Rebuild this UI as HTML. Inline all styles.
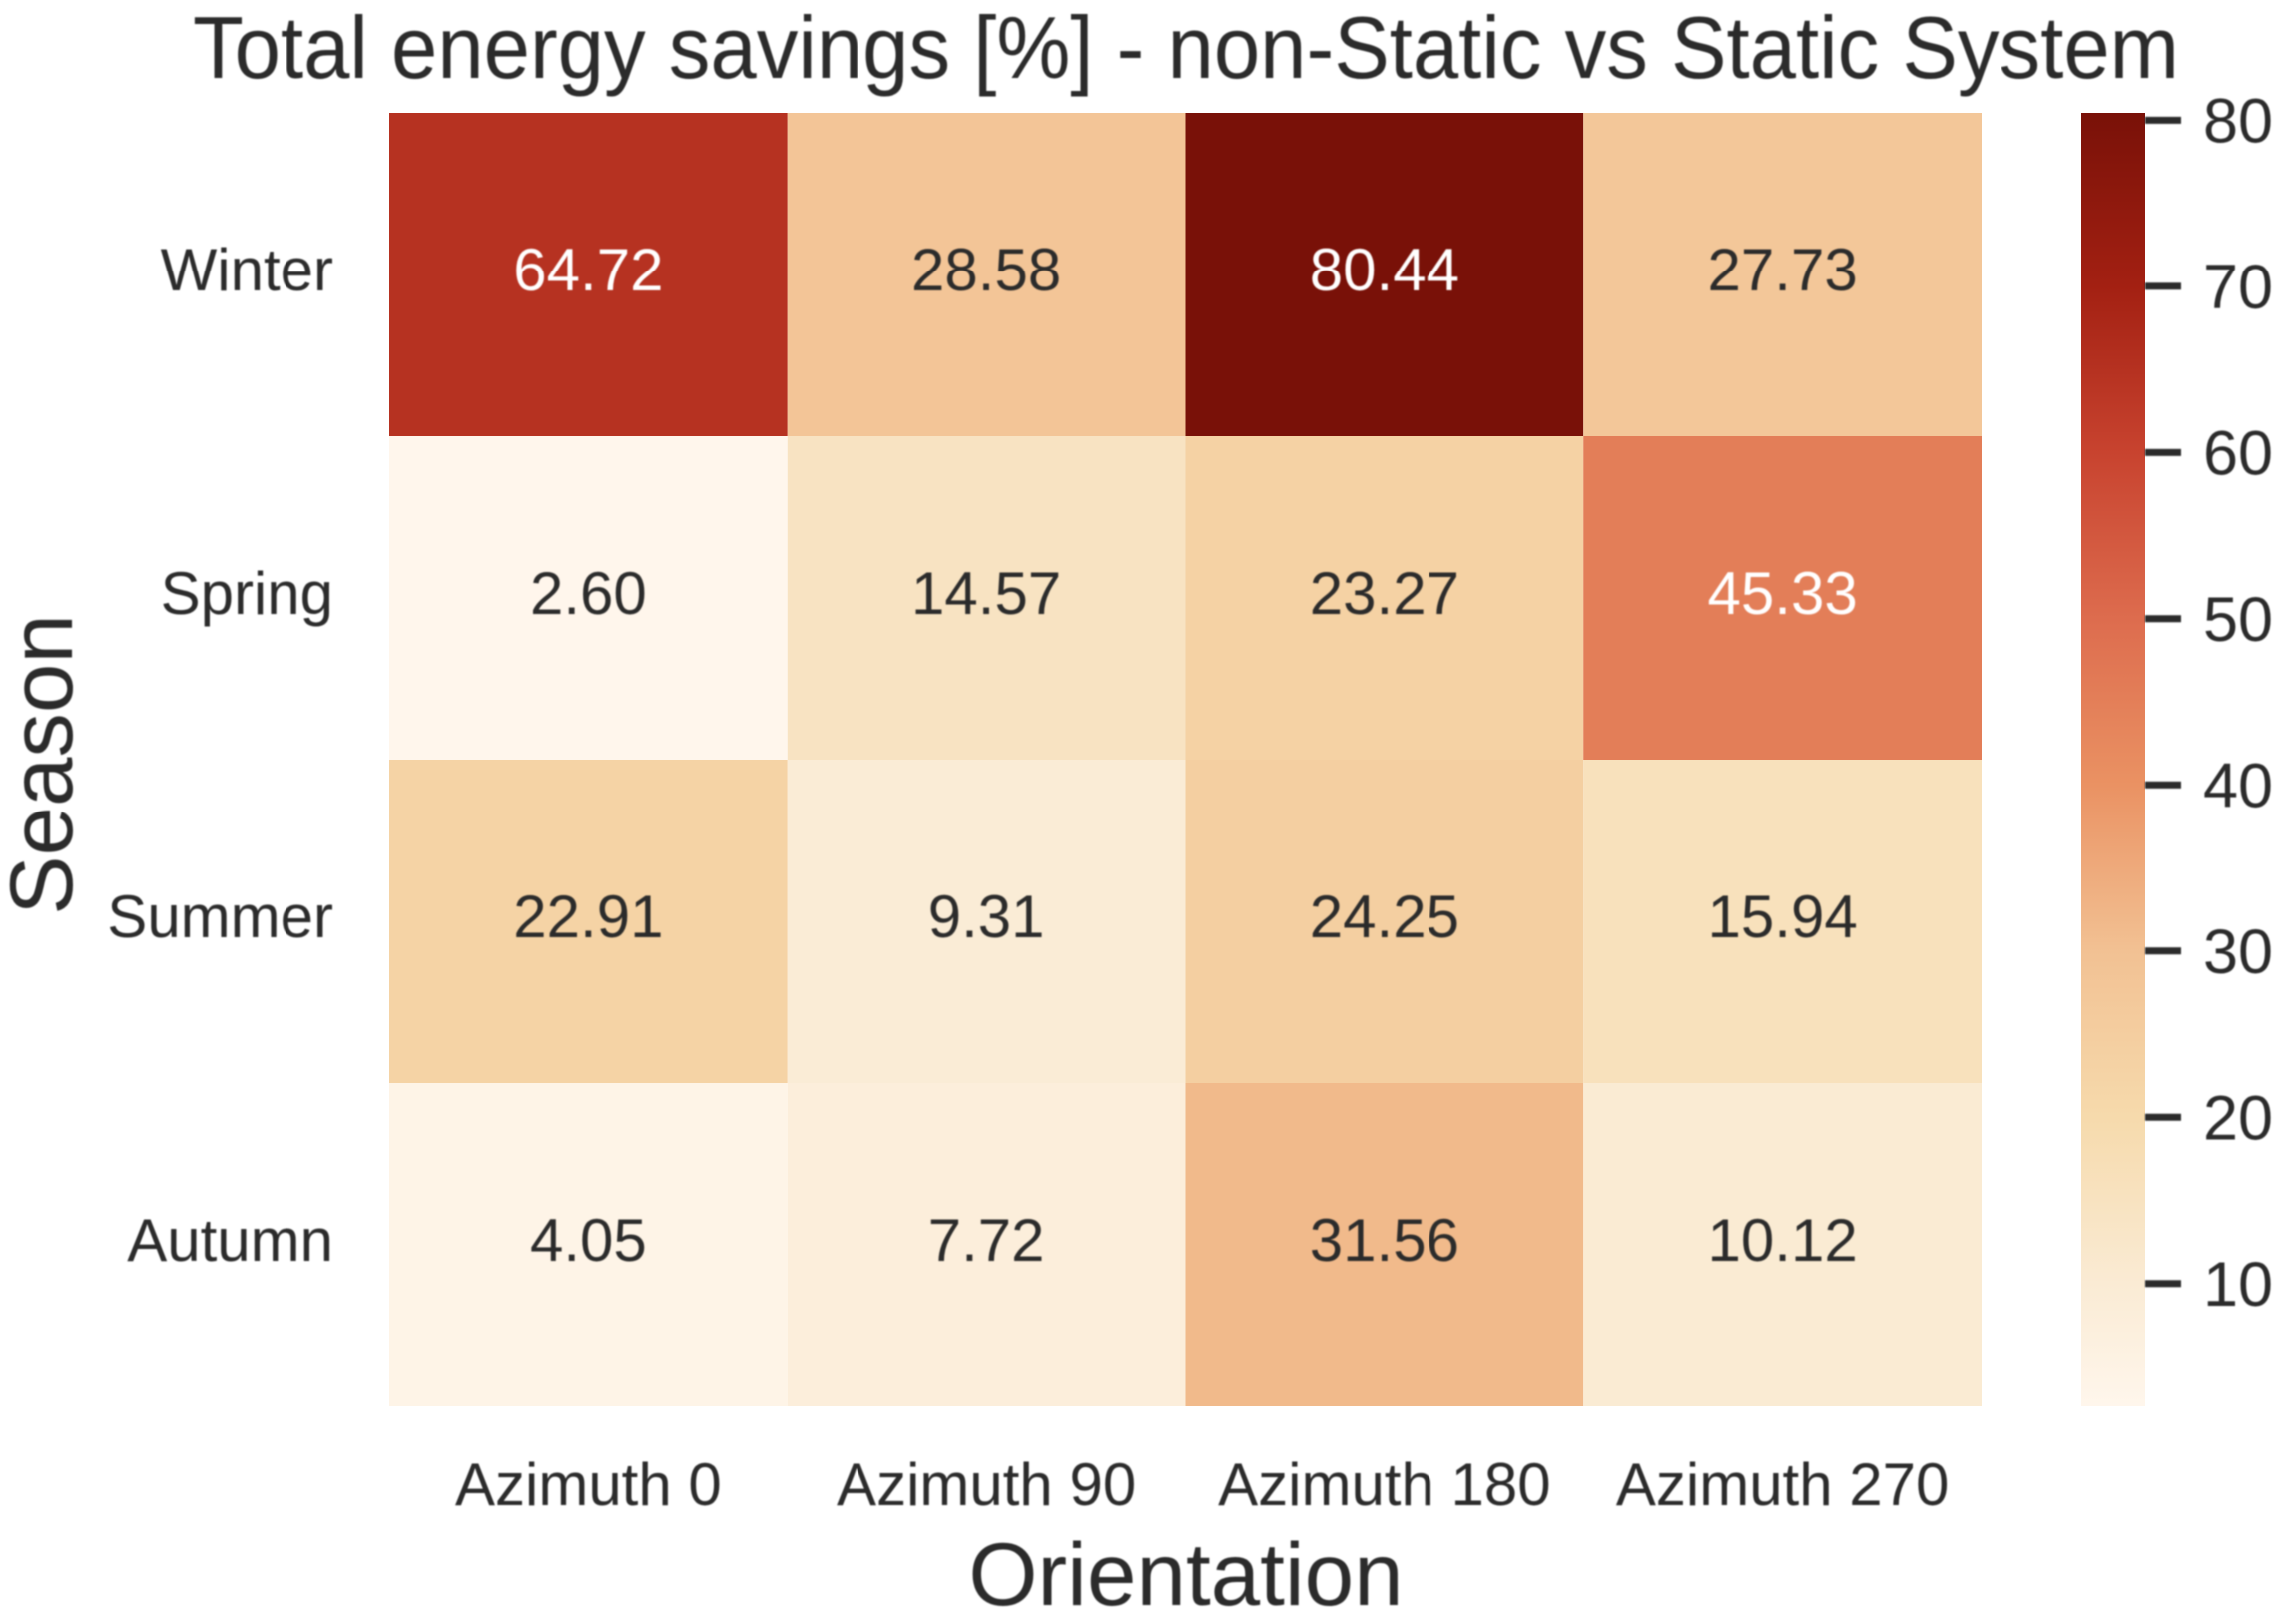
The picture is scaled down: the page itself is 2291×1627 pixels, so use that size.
<!DOCTYPE html>
<html lang="en">
<head>
<meta charset="utf-8">
<title>Total energy savings heatmap</title>
<style>
  html, body { margin: 0; padding: 0; background: #fff; }
  svg { display: block; }
  text { font-family: "Liberation Sans", Arial, sans-serif; fill: #2b2b2b; }
  .soft { filter: blur(0.8px); }
</style>
</head>
<body>
<svg id="chart" xmlns="http://www.w3.org/2000/svg" width="2291" height="1627" viewBox="0 0 2291 1627">
  <rect x="0" y="0" width="2291" height="1627" fill="#ffffff"/>
  <defs>
    <linearGradient id="cbar-gradient" x1="0" y1="1" x2="0" y2="0"></linearGradient>
  </defs>
  <g id="cells"></g>
  <g id="annotations" class="soft"></g>
  <g id="y-ticks" class="soft"></g>
  <g id="x-ticks" class="soft"></g>
  <rect id="cbar" fill="url(#cbar-gradient)"/>
  <g id="cbar-ticks" class="soft"></g>
  <g class="soft">
    <text x="193" y="78" font-size="88" textLength="1990" lengthAdjust="spacingAndGlyphs">Total energy savings [%] - non-Static vs Static System</text>
    <text x="1188" y="1608" font-size="89" text-anchor="middle">Orientation</text>
    <text transform="translate(72 766) rotate(-90)" font-size="89" text-anchor="middle">Season</text>
  </g>
</svg>
<script>
const seasons = ["Winter", "Spring", "Summer", "Autumn"];
const orientations = ["Azimuth 0", "Azimuth 90", "Azimuth 180", "Azimuth 270"];
const winterValues = [64.72, 28.58, 80.44, 27.73];
const springValues = [2.60, 14.57, 23.27, 45.33];
const summerValues = [22.91, 9.31, 24.25, 15.94];
const autumnValues = [4.05, 7.72, 31.56, 10.12];
const colorbarTicks = [10, 20, 30, 40, 50, 60, 70, 80];

const rows = [winterValues, springValues, summerValues, autumnValues];
const NS = "http://www.w3.org/2000/svg";

// Colormap (position 0..1 along the value range).
const cmapPositions = [0, 0.095, 0.2235, 0.352, 0.48, 0.609, 0.737, 0.866, 1];
const cmapColors = [
  [255, 246, 236], [250, 235, 212], [246, 218, 172], [242, 193, 147],
  [234, 146, 99], [221, 108, 78], [200, 67, 47], [163, 32, 18], [121, 17, 8]
];

const plot = { left: 390, right: 1985, top: 113, bottom: 1409 };
const bar = { left: 2085, right: 2149, top: 113, bottom: 1409 };

const allValues = rows.flat();
const vMin = Math.min(...allValues);
const vMax = Math.max(...allValues);

function xBand(i) { return plot.left + (plot.right - plot.left) * i / orientations.length; }
function yBand(i) { return plot.top + (plot.bottom - plot.top) * i / seasons.length; }
function norm(v) { return (v - vMin) / (vMax - vMin); }
function barY(v) { return bar.bottom - norm(v) * (bar.bottom - bar.top); }

function colorRgb(v) {
  const t = Math.max(0, Math.min(1, norm(v)));
  let k = 0;
  while (k < cmapPositions.length - 2 && t > cmapPositions[k + 1]) k++;
  const f = (t - cmapPositions[k]) / (cmapPositions[k + 1] - cmapPositions[k]);
  return cmapColors[k].map((c, n) => Math.round(c + (cmapColors[k + 1][n] - c) * f));
}
function css(rgb) { return "rgb(" + rgb.join(",") + ")"; }
function isDark(rgb) { return (0.299 * rgb[0] + 0.587 * rgb[1] + 0.114 * rgb[2]) < 160; }

function make(tag, attrs) {
  const el = document.createElementNS(NS, tag);
  for (const k in attrs) el.setAttribute(k, attrs[k]);
  return el;
}

const cellsG = document.getElementById("cells");
const annG = document.getElementById("annotations");
const yG = document.getElementById("y-ticks");
const xG = document.getElementById("x-ticks");
const tickG = document.getElementById("cbar-ticks");

rows.forEach((row, r) => {
  row.forEach((v, c) => {
    const rgb = colorRgb(v);
    const x0 = xBand(c), x1 = xBand(c + 1), y0 = yBand(r), y1 = yBand(r + 1);
    const rect = make("rect", { x: x0, y: y0, width: x1 - x0, height: y1 - y0, fill: css(rgb) });
    
    
    cellsG.appendChild(rect);

    const label = make("text", { x: (x0 + x1) / 2, y: (y0 + y1) / 2 + 16, "font-size": 60, "text-anchor": "middle" });
    
    
    label.style.fill = isDark(rgb) ? "#ffffff" : "#2b2b2b";
    label.textContent = v.toFixed(2);
    annG.appendChild(label);
  });
});

seasons.forEach((s, r) => {
  const t = make("text", { x: 334, y: (yBand(r) + yBand(r + 1)) / 2 + 16, "font-size": 60, "text-anchor": "end" });
  
  
  t.textContent = s;
  yG.appendChild(t);
});

orientations.forEach((o, c) => {
  const t = make("text", { x: (xBand(c) + xBand(c + 1)) / 2, y: 1508, "font-size": 60, "text-anchor": "middle" });
  
  
  t.textContent = o;
  xG.appendChild(t);
});

const grad = document.getElementById("cbar-gradient");
cmapPositions.forEach((p, i) => {
  const stop = make("stop", { offset: p, "stop-color": css(cmapColors[i]) });
  grad.appendChild(stop);
});
const cbar = document.getElementById("cbar");
cbar.setAttribute("x", bar.left);
cbar.setAttribute("y", bar.top);
cbar.setAttribute("width", bar.right - bar.left);
cbar.setAttribute("height", bar.bottom - bar.top);

colorbarTicks.forEach((v) => {
  const y = barY(v);
  const line = make("line", { x1: bar.right, x2: 2185, y1: y, y2: y, stroke: "#2b2b2b", "stroke-width": 7 });
  
  
  tickG.appendChild(line);

  const t = make("text", { x: 2207, y: y + 22, "font-size": 63 });
  
  
  t.textContent = String(v);
  tickG.appendChild(t);
});
</script>
</body>
</html>
